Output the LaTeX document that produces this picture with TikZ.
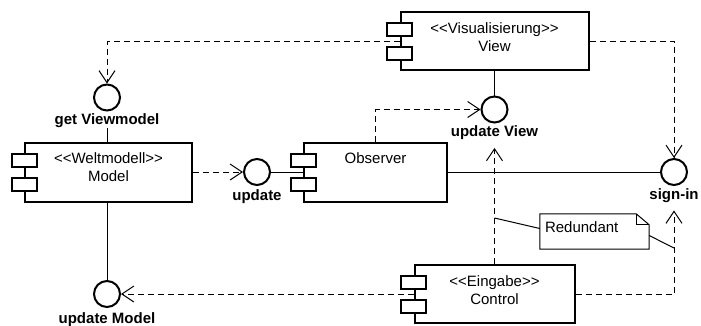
\documentclass[tikz,border=0pt]{standalone}
\usepackage{fontspec}
\newfontfamily\umlfont{Liberation Sans}
\newcommand{\umlsize}{\umlfont\fontsize{15}{18}\selectfont}
\usetikzlibrary{arrows.meta,positioning}

\tikzset{
  comp/.style={draw, line width=2pt, fill=white, inner sep=0pt},
  port/.style={draw, line width=2pt, fill=white, minimum width=25pt, minimum height=13pt, inner sep=0pt},
  iface/.style={circle, draw, line width=2pt, minimum size=26pt, inner sep=0pt},
  ilabel/.style={font=\umlsize\bfseries, inner sep=0pt},
  ctext/.style={align=center, inner sep=0pt},
  wire/.style={line width=1pt},
  dep/.style={line width=1pt, dash pattern=on 6pt off 4pt, -{Straight Barb[length=12pt, width=16pt, line width=1pt]}},
}

\begin{document}
\begin{tikzpicture}[x=1pt, y=-1pt, font=\umlsize]
  \useasboundingbox (0,0) rectangle (701,325);

  % components
  \node[comp, minimum width=188pt, minimum height=58pt] (view) at (494.5,41) {};
  \node[comp, minimum width=167pt, minimum height=59pt] (model) at (108.5,172) {};
  \node[comp, minimum width=143pt, minimum height=59pt] (obs) at (375.5,172) {};
  \node[comp, minimum width=160pt, minimum height=58pt] (ctrl) at (494.5,294) {};

  \node[ctext, below=11pt of view.north] (view-txt) {<<Visualisierung>>\\View};
  \node[ctext, below=11pt of model.north] (model-txt) {<<Weltmodell>>\\Model};
  \node[ctext, below=11pt of obs.north] (obs-txt) {Observer};
  \node[ctext, below=11pt of ctrl.north] (ctrl-txt) {<<Eingabe>>\\Control};

  \foreach \c in {view,model,obs,ctrl} {
    \node[port] (\c-pa) at ([yshift=12pt]\c.west) {};
    \node[port] (\c-pb) at ([yshift=-12pt]\c.west) {};
  }

  % interfaces
  \node[iface] (getvm) at (107,97.5) {};
  \node[ilabel, below=2pt of getvm] (getvm-l) {get Viewmodel};
  \node[iface] (upd) at (257,172) {};
  \node[ilabel, below=3pt of upd] (upd-l) {update};
  \node[iface] (updview) at (494.5,109.5) {};
  \node[ilabel, below=2pt of updview] (updview-l) {update View};
  \node[iface] (signin) at (674,172) {};
  \node[ilabel, below=2pt of signin] (signin-l) {sign-in};
  \node[iface] (updmodel) at (107,294) {};
  \node[ilabel, below=4pt of updmodel] (updmodel-l) {update Model};

  % note
  \node[minimum width=109pt, minimum height=35pt, inner sep=0pt] (note) at (594.5,231.5) {};
  \draw[wire, fill=white] (note.north west) -- ([xshift=-13pt]note.north east)
    -- ([yshift=-11pt]note.north east) -- (note.south east) -- (note.south west) -- cycle;
  \draw[wire] ([xshift=-13pt]note.north east) |- ([yshift=-11pt]note.north east);
  \node[anchor=west, inner sep=0pt] (note-txt) at ([xshift=5pt, yshift=4pt]note.west) {Redundant};

  % connectors
  \draw[dep] (view.west) -| (getvm.north);
  \draw[wire] (getvm-l.south) -- (getvm-l.south |- model.north);
  \draw[dep] (model.east) -- (upd.west);
  \draw[wire] (upd.east) -- (obs.west);
  \draw[dep] (obs.north) |- (updview.west);
  \draw[wire] (view.south) -- (updview.north);
  \draw[wire] (obs.east) -- (signin.west);
  \draw[dep] (view.east) -| (signin.north);
  \draw[dep, shorten >=8pt] (ctrl.east) -| (signin-l.south);
  \draw[dep, shorten >=8pt] (ctrl.north) -- (updview-l.south);
  \draw[dep] (ctrl.west) -- (updmodel.east);
  \draw[wire] (updmodel.north |- model.south) -- (updmodel.north);

  \coordinate (note-a) at (494.5,218);
  \coordinate (note-b) at (674,248);
  \draw[wire] (note-a) -- ([yshift=3pt]note.west);
  \draw[wire] ([yshift=-4pt]note.east) -- (note-b);
\end{tikzpicture}
\end{document}
